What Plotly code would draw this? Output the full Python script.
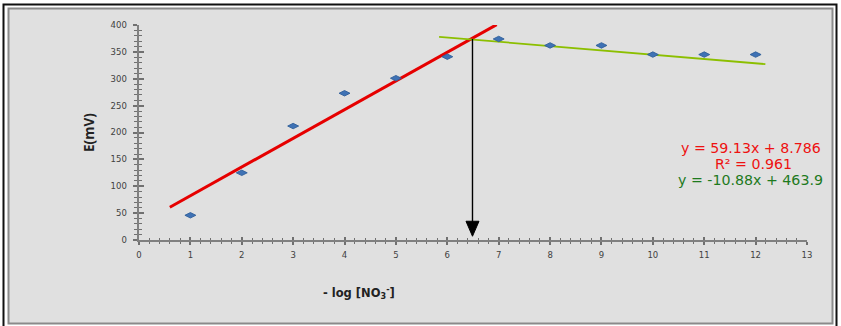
import plotly.graph_objects as go

# ---- data ----
neg_log_no3 = [1, 2, 3, 4, 5, 6, 7, 8, 9, 10, 11, 12]
potential_mv = [46, 125, 212, 273, 301, 341, 374, 362, 362, 345, 345, 345]

red_fit_x = [0.6, 6.96]          # drawn extent of the red trend line
red_slope, red_intercept = 53.4, 29.0
green_fit_x = [5.84, 12.19]      # drawn extent of the green trend line
green_slope, green_intercept = -8.0, 424.8

arrow_x = 6.49
arrow_top, arrow_tip = 374, 7

eq_red = "y = 59.13x + 8.786"
eq_r2 = "R² = 0.961"
eq_green = "y = -10.88x + 463.9"

x_ticks = list(range(0, 14))
y_ticks = list(range(0, 401, 50))

# ---- layout geometry (pixels) ----
W, H = 841, 326
ML, MR, MT, MB = 139, 34, 25, 86
PW, PH = W - ML - MR, H - MT - MB


def px_x(p):
    return (p - ML) / PW


def px_y(p):
    return (H - MB - p) / PH


red_fit_y = [red_slope * v + red_intercept for v in red_fit_x]
green_fit_y = [green_slope * v + green_intercept for v in green_fit_x]

fig = go.Figure()

fig.add_trace(go.Scatter(x=red_fit_x, y=red_fit_y, mode="lines",
                         line=dict(color="#e60000", width=3), hoverinfo="skip"))
fig.add_trace(go.Scatter(x=green_fit_x, y=green_fit_y, mode="lines",
                         line=dict(color="#8cbf00", width=1.8), hoverinfo="skip"))
fig.add_trace(go.Scatter(x=neg_log_no3, y=potential_mv, mode="markers",
                         marker=dict(symbol="diamond-wide", size=7.8, color="#3f72b5",
                                     line=dict(color="#2f5f9a", width=0.9))))
fig.add_trace(go.Scatter(x=[arrow_x, arrow_x], y=[arrow_top, arrow_tip + 10], mode="lines",
                         line=dict(color="black", width=1.4), hoverinfo="skip"))

shapes = [
    # gray chart area with inner frame
    dict(type="rect", xref="paper", yref="paper",
         x0=px_x(8.5), x1=px_x(832.5), y0=px_y(323.5), y1=px_y(8.5),
         fillcolor="#e0e0e0", line=dict(color="#8a8a8a", width=2), layer="below"),
    # outer black frame
    dict(type="rect", xref="paper", yref="paper",
         x0=px_x(3.5), x1=px_x(836.5), y0=px_y(327), y1=px_y(4.5),
         fillcolor="rgba(0,0,0,0)", line=dict(color="#111111", width=2), layer="below"),
    # arrowhead (pixel-sized, anchored at the tip)
    dict(type="path", xref="x", yref="y", xsizemode="pixel", ysizemode="pixel",
         xanchor=arrow_x, yanchor=arrow_tip,
         path="M-6.5,15 L6.5,15 L0,0 Z", fillcolor="black", line=dict(color="black", width=1)),
]

tick_font = dict(family="DejaVu Sans", size=8.5, color="#404040")

fig.update_layout(
    width=W, height=H,
    margin=dict(l=ML, r=MR, t=MT, b=MB, autoexpand=False),
    paper_bgcolor="white", plot_bgcolor="rgba(0,0,0,0)",
    showlegend=False,
    shapes=shapes,
    xaxis=dict(range=[0, 13], tickvals=x_ticks, ticks="outside", ticklen=3, tickwidth=1.5,
               tickcolor="#707070", showline=True, linecolor="#808080", linewidth=2,
               showgrid=False, zeroline=False, tickfont=tick_font, ticklabelstandoff=3,
               minor=dict(dtick=0.2, ticks="outside", ticklen=2, tickwidth=1.2, tickcolor="#707070")),
    yaxis=dict(range=[0, 400], tickvals=y_ticks, ticks="outside", ticklen=4.5, tickwidth=1.5,
               tickcolor="#707070", showline=True, linecolor="#808080", linewidth=2,
               showgrid=False, zeroline=False, tickfont=tick_font, ticklabelstandoff=4,
               minor=dict(dtick=10, ticks="outside", ticklen=3, tickwidth=1.2, tickcolor="#707070")),
    xaxis2=dict(range=[0, 13], overlaying="x", anchor="y", side="bottom", tickvals=x_ticks,
                ticks="inside", ticklen=3, tickwidth=1.5, tickcolor="#707070",
                showticklabels=False, showline=False, showgrid=False, zeroline=False,
                minor=dict(dtick=0.2, ticks="inside", ticklen=2, tickwidth=1.2, tickcolor="#707070")),
    yaxis2=dict(range=[0, 400], overlaying="y", anchor="x", side="left", tickvals=y_ticks,
                ticks="inside", ticklen=4.5, tickwidth=1.5, tickcolor="#707070",
                showticklabels=False, showline=False, showgrid=False, zeroline=False,
                minor=dict(dtick=10, ticks="inside", ticklen=3, tickwidth=1.2, tickcolor="#707070")),
)

# invisible trace to activate the secondary axes
fig.add_trace(go.Scatter(x=[0], y=[0], xaxis="x2", yaxis="y2", mode="markers",
                         marker=dict(opacity=0), hoverinfo="skip"))

annotations = [
    dict(text="<b>E(mV)</b>", x=px_x(89), y=px_y(133), textangle=-90,
         font=dict(family="Open Sans", size=13.5, color="#222222")),
    dict(text="<b>- log [NO<sub>3</sub><sup>-</sup>]</b>", x=px_x(359), y=px_y(293),
         font=dict(family="DejaVu Sans", size=11.5, color="#222222")),
    dict(text=eq_red, x=px_x(679), y=px_y(148), xanchor="left",
         font=dict(family="DejaVu Sans", size=14.2, color="#ee1111")),
    dict(text=eq_r2, x=px_x(713), y=px_y(164), xanchor="left",
         font=dict(family="DejaVu Sans", size=14.2, color="#ee1111")),
    dict(text=eq_green, x=px_x(676), y=px_y(180), xanchor="left",
         font=dict(family="DejaVu Sans", size=14.2, color="#1e7a1e")),
]
for a in annotations:
    a.setdefault("xanchor", "center")
    a.update(xref="paper", yref="paper", yanchor="middle", showarrow=False)
fig.update_layout(annotations=annotations)

fig.write_html("out.html", config={"displayModeBar": False},
               post_script="document.body.style.margin='0';")
